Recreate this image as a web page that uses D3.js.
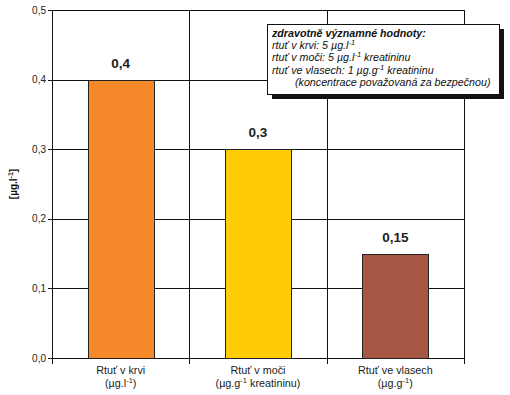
<!DOCTYPE html>
<html lang="cs">
<head>
<meta charset="UTF-8">
<title>Rtuť</title>
<script src="https://d3js.org/d3.v7.min.js"></script>
<style>
    body { margin: 0; background: #fff; }
    svg { font-family: "Liberation Sans", Arial, sans-serif; }
    .tick-label { font-size: 10px; fill: #222; }
    .x-label { font-size: 10.8px; fill: #222; }
    .val { font-size: 13.5px; font-weight: bold; fill: #222; }
    .leg { font-size: 10.7px; font-style: italic; fill: #111; }
</style>
</head>
<body>
<div id="chart"></div>
<script>
    var categories = ["Rtuť v krvi", "Rtuť v moči", "Rtuť ve vlasech"];
    var units = [["(µg.l", "-1", ")"], ["(µg.g", "-1", " kreatininu)"], ["(µg.g", "-1", ")"]];
    var values = [0.4, 0.3, 0.15];
    var valueLabels = ["0,4", "0,3", "0,15"];
    var colors = ["#F5892A", "#FFCC05", "#A65744"];
    var yTicks = [0, 0.1, 0.2, 0.3, 0.4, 0.5];

    var w = 510, h = 395;
    var mLeft = 52, mRight = 464, mTop = 10, mBottom = 358;

    var svg = d3.select("#chart").append("svg")
        .attr("width", w).attr("height", h);

    var xScale = d3.scaleBand()
        .domain(d3.range(categories.length))
        .range([mLeft, mRight])
        .paddingInner(0)
        .paddingOuter(0);

    var yScale = d3.scaleLinear()
        .domain([0, 0.5])
        .range([mBottom, mTop]);

    // horizontal grid
    svg.selectAll(".hgrid")
        .data(yTicks)
        .enter()
        .append("line")
        .attr("x1", mLeft - 4)
        .attr("x2", mRight)
        .attr("y1", function(d) { return Math.round(yScale(d)) + 0.5; })
        .attr("y2", function(d) { return Math.round(yScale(d)) + 0.5; })
        .attr("stroke", "#111")
        .attr("stroke-width", 1);

    // vertical lines at category boundaries
    var bounds = d3.range(categories.length + 1).map(function(i) {
        return i < categories.length ? xScale(i) : mRight;
    });
    svg.selectAll(".vgrid")
        .data(bounds)
        .enter()
        .append("line")
        .attr("x1", function(d) { return Math.round(d) + 0.5; })
        .attr("x2", function(d) { return Math.round(d) + 0.5; })
        .attr("y1", mTop)
        .attr("y2", mBottom + 6)
        .attr("stroke", "#111")
        .attr("stroke-width", 1);

    // y tick labels
    svg.selectAll(".ylab")
        .data(yTicks)
        .enter()
        .append("text")
        .attr("class", "tick-label")
        .attr("x", mLeft - 6)
        .attr("y", function(d) { return yScale(d) + 3.5; })
        .attr("text-anchor", "end")
        .text(function(d) { return d.toFixed(1).replace(".", ","); });

    // y title
    var yt = svg.append("text")
        .attr("transform", "translate(17," + (mTop + mBottom) / 2 + ") rotate(-90)")
        .attr("text-anchor", "middle")
        .attr("font-size", "10px")
        .attr("font-weight", "bold")
        .attr("fill", "#111");
    yt.append("tspan").text("[µg.l");
    yt.append("tspan").attr("dy", -4).attr("font-size", "7px").text("-1");
    yt.append("tspan").attr("dy", 4).text("]");

    // bars
    var barW = 66;
    svg.selectAll("rect.bar")
        .data(values)
        .enter()
        .append("rect")
        .attr("class", "bar")
        .attr("x", function(d, i) { return Math.round(xScale(i) + (xScale.bandwidth() - barW) / 2) + 0.5; })
        .attr("y", function(d) { return Math.round(yScale(d)) + 0.5; })
        .attr("width", barW)
        .attr("height", function(d) { return Math.round(mBottom) - Math.round(yScale(d)); })
        .attr("fill", function(d, i) { return colors[i]; })
        .attr("stroke", "#222")
        .attr("stroke-width", 1);

    // value labels
    svg.selectAll(".val")
        .data(values)
        .enter()
        .append("text")
        .attr("class", "val")
        .attr("x", function(d, i) { return xScale(i) + xScale.bandwidth() / 2; })
        .attr("y", function(d) { return yScale(d) - 12; })
        .attr("text-anchor", "middle")
        .text(function(d, i) { return valueLabels[i]; });

    // x labels
    categories.forEach(function(c, i) {
        var cx = xScale(i) + xScale.bandwidth() / 2;
        svg.append("text")
            .attr("class", "x-label")
            .attr("x", cx)
            .attr("y", mBottom + 16)
            .attr("text-anchor", "middle")
            .text(c);
        var t = svg.append("text")
            .attr("class", "x-label")
            .attr("x", cx)
            .attr("y", mBottom + 29)
            .attr("text-anchor", "middle");
        t.append("tspan").text(units[i][0]);
        t.append("tspan").attr("dy", -4).attr("font-size", "7.5px").text(units[i][1]);
        t.append("tspan").attr("dy", 4).text(units[i][2]);
    });

    // legend box with shadow
    var lx = 267, ly = 24, lw = 232, lh = 70;
    svg.append("rect")
        .attr("x", lx + 5).attr("y", ly + 5)
        .attr("width", lw).attr("height", lh)
        .attr("fill", "#111");
    svg.append("rect")
        .attr("x", lx + 0.5).attr("y", ly + 0.5)
        .attr("width", lw).attr("height", lh)
        .attr("fill", "#fff")
        .attr("stroke", "#111")
        .attr("stroke-width", 1);

    var legLines = [
        { parts: [["zdravotně významné hodnoty:", 0]], bold: true, dx: 5 },
        { parts: [["rtuť v krvi: 5 µg.l", 0], ["-1", 1]], dx: 5 },
        { parts: [["rtuť v moči: 5 µg.l", 0], ["-1", 1], [" kreatininu", 0]], dx: 5 },
        { parts: [["rtuť ve vlasech: 1 µg.g", 0], ["-1", 1], [" kreatininu", 0]], dx: 5 },
        { parts: [["(koncentrace považovaná za bezpečnou)", 0]], dx: 28 }
    ];
    legLines.forEach(function(l, i) {
        var t = svg.append("text")
            .attr("class", "leg")
            .attr("x", lx + l.dx)
            .attr("y", ly + 13 + i * 12.2)
            .attr("font-weight", l.bold ? "bold" : "normal");
        var sup = false;
        l.parts.forEach(function(p) {
            var s = t.append("tspan").text(p[0]);
            if (p[1] && !sup) { s.attr("dy", -4).attr("font-size", "7.5px"); sup = true; }
            else if (!p[1] && sup) { s.attr("dy", 4); sup = false; }
        });
    });
</script>
</body>
</html>
